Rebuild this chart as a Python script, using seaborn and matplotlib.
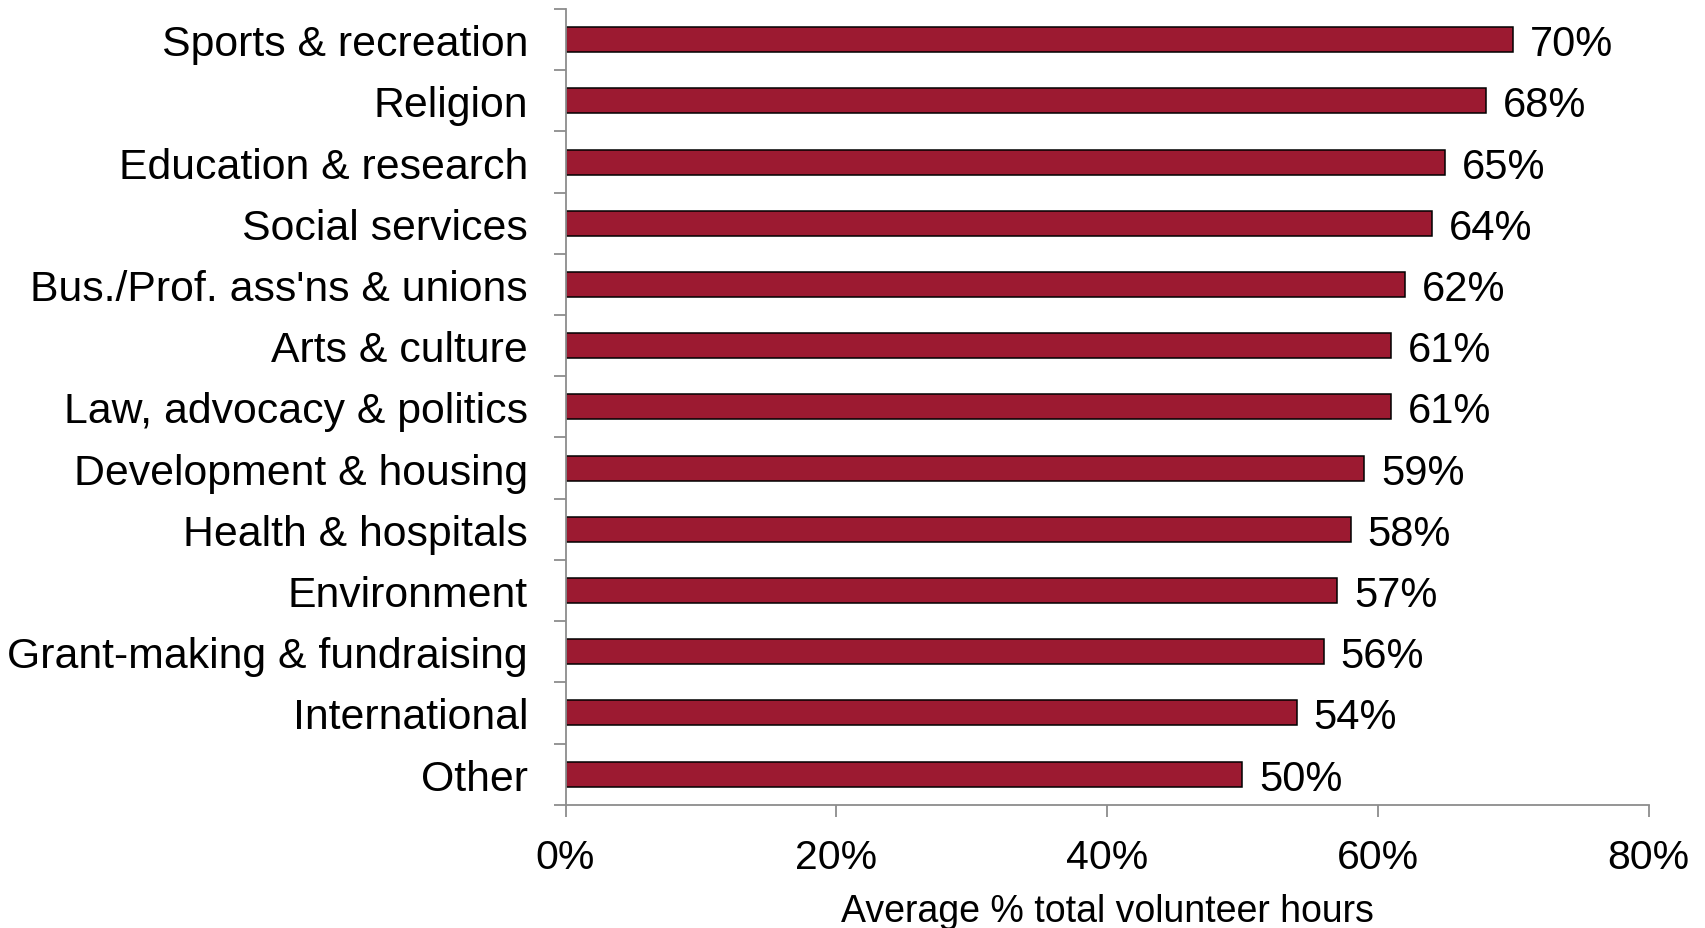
import matplotlib
matplotlib.use("Agg")
import matplotlib.pyplot as plt
import seaborn as sns
import pandas as pd
import numpy as np
from matplotlib.ticker import FuncFormatter, FixedLocator

categories = ["Sports & recreation", "Religion", "Education & research", "Social services",
              "Bus./Prof. ass'ns & unions", "Arts & culture", "Law, advocacy & politics",
              "Development & housing", "Health & hospitals", "Environment",
              "Grant-making & fundraising", "International", "Other"]
values = [70, 68, 65, 64, 62, 61, 61, 59, 58, 57, 56, 54, 50]
x_ticks = [0, 20, 40, 60, 80]
x_label = "Average % total volunteer hours"

sns.set_theme(style="white")
plt.rcParams['font.family'] = ['Liberation Sans', 'DejaVu Sans']

df = pd.DataFrame({"category": categories, "value": values})

fig = plt.figure(figsize=(17.06, 9.29), dpi=100)
ax = fig.add_axes([0.3315, 0.1327, 0.9663 - 0.3315, 0.9892 - 0.1327])

sns.barplot(data=df, y="category", x="value", orient="h", color="#9C1A31",
            width=0.41, edgecolor="black", linewidth=1.1, saturation=1, ax=ax)

for i, v in enumerate(values):
    ax.annotate(f"{v}%", xy=(v, i), xytext=(12, 0), textcoords="offset points",
                va="center_baseline", ha="left", fontsize=30, color="black")

ax.set_xlim(0, 80)
ax.set_ylim(len(categories) - 0.5, -0.5)
ax.set_xticks(x_ticks)
ax.xaxis.set_major_formatter(FuncFormatter(lambda x, p: f"{x:.0f}%"))
ax.set_xlabel(x_label, fontsize=27, labelpad=12, color="black")
ax.set_ylabel("")

spine_color = "#8c8c8c"
for s in ["top", "right"]:
    ax.spines[s].set_visible(False)
for s in ["left", "bottom"]:
    ax.spines[s].set_color(spine_color)
    ax.spines[s].set_linewidth(1.3)

ax.tick_params(axis="x", which="major", length=8.6, width=1.3, color=spine_color,
               direction="out", labelsize=29.5, pad=15.5, bottom=True, labelcolor="black")
ax.tick_params(axis="y", which="major", length=0, labelsize=30.75, pad=27, labelcolor="black")
ax.yaxis.set_minor_locator(FixedLocator(np.arange(-0.5, len(categories), 1.0)))
ax.tick_params(axis="y", which="minor", length=8.6, width=1.3, color=spine_color,
               direction="out", left=True)

fig.savefig("out.png", dpi=100)
